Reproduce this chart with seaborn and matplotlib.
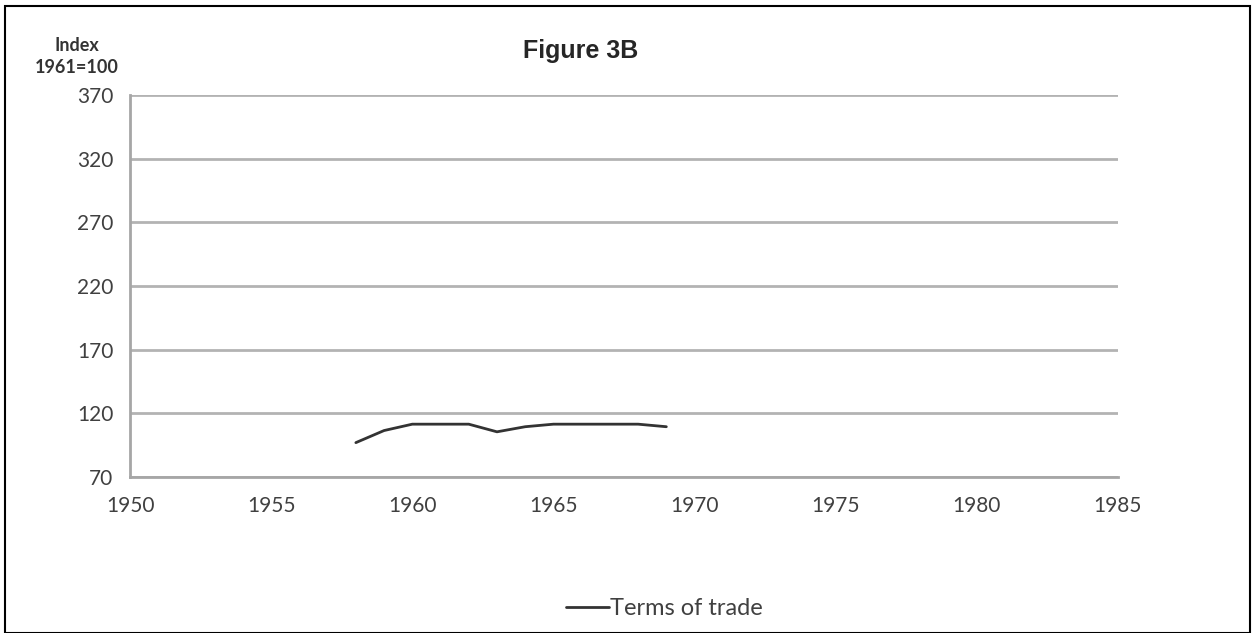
import matplotlib
matplotlib.use("Agg")
import matplotlib.pyplot as plt
import seaborn as sns
import pandas as pd
from matplotlib.patches import Rectangle

# data
years = [1958, 1959, 1960, 1961, 1962, 1963, 1964, 1965, 1966, 1967, 1968, 1969]
terms_of_trade = [97, 106.5, 111.5, 111.5, 111.5, 105.5, 109.5, 111.5, 111.5, 111.5, 111.5, 109.5]
y_ticks = [70, 120, 170, 220, 270, 320, 370]
x_ticks = [1950, 1955, 1960, 1965, 1970, 1975, 1980, 1985]

df = pd.DataFrame({"year": years, "Terms of trade": terms_of_trade})

sns.set_style("white")
plt.rcParams["font.family"] = ["Lato", "DejaVu Sans"]

fig = plt.figure(figsize=(12.54, 6.33), dpi=100)
ax = fig.add_axes([0.1037, 0.2464, 0.7878, 0.6036])

sns.lineplot(data=df, x="year", y="Terms of trade", ax=ax, color="#333333",
             linewidth=2, label="Terms of trade")

ax.set_xlim(1950, 1985)
ax.set_ylim(70, 370)
ax.set_xticks(x_ticks)
ax.set_yticks(y_ticks)
ax.yaxis.grid(True, color="#b3b3b3", linewidth=2)
ax.set_axisbelow(True)
for side in ["top", "right"]:
    ax.spines[side].set_visible(False)
for side in ["left", "bottom"]:
    ax.spines[side].set_color("#a6a6a6")
    ax.spines[side].set_linewidth(2)
ax.tick_params(axis="both", labelsize=15, labelcolor="#404040", length=5,
               width=1.5, direction="out", color="#a6a6a6")
ax.tick_params(axis="x", pad=9)
ax.tick_params(axis="y", pad=7)
ax.set_xlabel("")
ax.set_ylabel("")

leg = ax.legend(loc="center", bbox_to_anchor=(0.541, -0.345), frameon=False,
                fontsize=17, handlelength=1.8, handletextpad=0.05)
for t in leg.get_texts():
    t.set_color("#404040")

fig.text(0.463, 0.92, "Figure 3B", fontsize=18, fontweight="bold",
         family="Liberation Sans", ha="center", va="center")
fig.text(0.061, 0.911, "Index\n1961=100", fontsize=13, fontweight="bold",
         ha="center", va="center", color="#333333", linespacing=1.35)

fig.patches.append(Rectangle((0.004, 0.0), 0.993, 0.99, transform=fig.transFigure,
                             fill=False, edgecolor="black", linewidth=1.5))

plt.savefig("out.png", dpi=100)
